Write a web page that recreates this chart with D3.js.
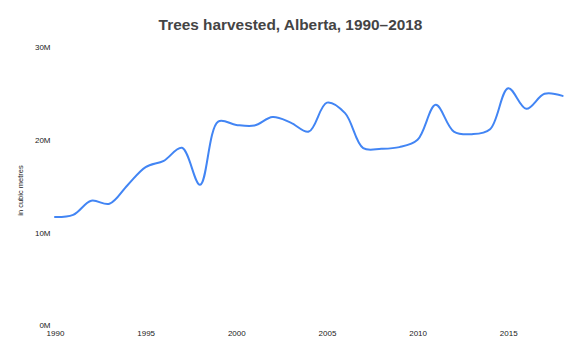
<!DOCTYPE html>
<html>
<head>
<meta charset="utf-8">
<script src="https://cdn.jsdelivr.net/npm/d3@7"></script>
<style>
  html, body { margin: 0; padding: 0; background: #fff; }
  svg { display: block; }
  text { font-family: "Liberation Sans", Arial, Helvetica, sans-serif; }
</style>
</head>
<body>
<svg id="chart" width="580" height="353"></svg>
<script>
const years = [1990,1991,1992,1993,1994,1995,1996,1997,1998,1999,2000,2001,2002,2003,2004,2005,2006,2007,2008,2009,2010,2011,2012,2013,2014,2015,2016,2017,2018];
const harvested = [11.66,11.9,13.42,13.09,15.1,17.05,17.73,19.13,15.14,21.96,21.6,21.53,22.44,21.85,20.88,24.0,22.87,19.09,19.02,19.2,19.99,23.76,20.88,20.6,21.14,25.56,23.33,24.95,24.73];
const yTicks = [0, 10, 20, 30];
const xTicks = [1990, 1995, 2000, 2005, 2010, 2015];
const title = "Trees harvested, Alberta, 1990–2018";
const yTitle = "in cubic metres";

const svg = d3.select("#chart");
const x = d3.scaleLinear().domain([1990, 2018]).range([55, 562.6]);
const y = d3.scaleLinear().domain([0, 30]).range([325.2, 47]);

svg.append("text")
  .attr("x", 290.5).attr("y", 30)
  .attr("text-anchor", "middle")
  .style("font-size", "15.4px").style("font-weight", "bold").style("fill", "#444")
  .text(title);

const yAxis = svg.append("g").attr("transform", "translate(55,0)")
  .call(d3.axisLeft(y).tickValues(yTicks).tickSize(0).tickPadding(4.5).tickFormat(d => d + "M"));
yAxis.select(".domain").remove();
yAxis.selectAll("text").style("font-size", "8px").style("fill", "#222")
  .style("font-family", '"Liberation Sans", Arial, sans-serif');

const xAxis = svg.append("g").attr("transform", "translate(0,328)")
  .call(d3.axisBottom(x).tickValues(xTicks).tickSize(0).tickPadding(2).tickFormat(d3.format("d")));
xAxis.select(".domain").remove();
xAxis.selectAll("text").style("font-size", "8px").style("fill", "#222")
  .style("font-family", '"Liberation Sans", Arial, sans-serif');

svg.append("text")
  .attr("transform", "translate(23,190.5) rotate(-90)")
  .attr("text-anchor", "middle")
  .style("font-size", "7.5px").style("fill", "#222")
  .text(yTitle);

const line = d3.line()
  .x((d, i) => x(years[i]))
  .y(d => y(d))
  .curve(d3.curveCatmullRom.alpha(0.5));

svg.append("path")
  .datum(harvested)
  .attr("d", line)
  .attr("fill", "none")
  .attr("stroke", "#4285F4")
  .attr("stroke-width", 2)
  .attr("stroke-linejoin", "round")
  .attr("stroke-linecap", "round");
</script>
</body>
</html>
